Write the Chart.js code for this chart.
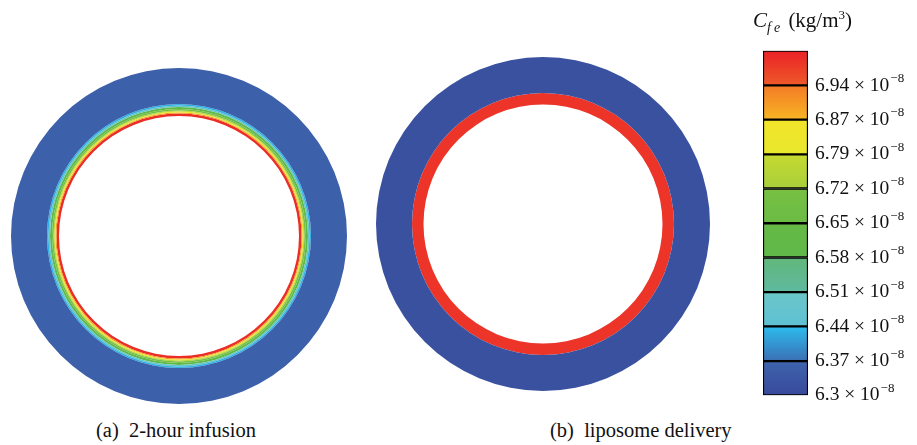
<!DOCTYPE html>
<html>
<head>
<meta charset="UTF-8">
<title>Cfe rings</title>
<script src="https://cdn.jsdelivr.net/npm/chart.js@4.4.1/dist/chart.umd.min.js"></script>
<style>
body { margin:0; background:#fff; }
#wrap { position:relative; width:917px; height:445px; overflow:hidden; font-family:"Liberation Serif","DejaVu Serif",serif; color:#111; }
canvas { position:absolute; }
.cap { position:absolute; font-size:20.5px; white-space:nowrap; }
#cbtitle { position:absolute; left:753px; top:7px; font-size:21px; white-space:nowrap; }
#cbtitle sub { font-size:14px; font-style:italic; letter-spacing:3px; }
#cbtitle sup { font-size:13px; }
</style>
</head>
<body>
<div id="wrap">
    <canvas id="ringA" width="336" height="336" style="left:11px;top:68px;"></canvas>
    <canvas id="ringB" width="334" height="334" style="left:376px;top:57px;"></canvas>
    <canvas id="cbar" width="177" height="382" style="left:740px;top:32px;"></canvas>
    <div id="cbtitle"><i>C</i><sub>fe</sub> (kg/m<sup>3</sup>)</div>
    <div class="cap" style="left:96px;top:419px;">(a)&nbsp; 2-hour infusion</div>
    <div class="cap" style="left:550px;top:419px;">(b)&nbsp; liposome delivery</div>
</div>
<script>
// colour levels of the contour legend (kg/m^3, x 1e-8)
var levels = [6.300, 6.370, 6.441, 6.511, 6.582, 6.652, 6.723, 6.793, 6.864, 6.934, 7.005];
var levelLabels = ['6.3', '6.37', '6.44', '6.51', '6.58', '6.65', '6.72', '6.79', '6.87', '6.94'];
var levelExp = '\u22128';
// colour at the bottom / top of each band
var bandBottom = ['#39499b', '#3b6fb4', '#5ec0d4', '#5ebaa0', '#5fb848', '#6bbc45', '#a8cf3a', '#e8e82c', '#f8b524', '#ef5a29'];
var bandTop    = ['#3e64ad', '#2cbdee', '#6ac7c8', '#62b77a', '#66ba46', '#78c043', '#c6da30', '#f2e42a', '#f47b26', '#ea2127'];

// radial profile (a) 2-hour infusion: ring edges in px from centre, outer -> inner
var ringA_edges = [168, 132, 130.5, 129, 127, 125.5, 124.5, 123.5, 122.5, 120];
var ringA_conc  = [6.36, 6.43, 6.50, 6.60, 6.70, 6.76, 6.82, 6.90, 6.99];
// radial profile (b) liposome delivery
var ringB_edges = [167, 131, 119.5];
var ringB_conc  = [6.32, 6.98];

var serif = '"Liberation Serif", "DejaVu Serif", serif';

function hex2rgb(h) {
    return [parseInt(h.substr(1,2),16), parseInt(h.substr(3,2),16), parseInt(h.substr(5,2),16)];
}
function concColor(v) {
    var i = 0;
    while (i < levels.length - 2 && v >= levels[i+1]) i++;
    var f = (v - levels[i]) / (levels[i+1] - levels[i]);
    f = Math.max(0, Math.min(1, f));
    var a = hex2rgb(bandBottom[i]), b = hex2rgb(bandTop[i]);
    var c = [0,1,2].map(function(k){ return Math.round(a[k] + (b[k]-a[k])*f); });
    return 'rgb(' + c.join(',') + ')';
}

function ringChart(id, edges, conc) {
    var sets = [];
    for (var i = 0; i < conc.length; i++) {
        sets.push({
            data: [1],
            weight: edges[i] - edges[i+1],
            backgroundColor: concColor(conc[i]),
            borderWidth: 0
        });
    }
    return new Chart(document.getElementById(id), {
        type: 'doughnut',
        data: { labels: ['c'], datasets: sets },
        options: {
            responsive: false,
            animation: false,
            events: [],
            cutout: edges[edges.length-1],
            layout: { padding: 0 },
            plugins: { legend: { display: false }, tooltip: { enabled: false } }
        }
    });
}

ringChart('ringA', ringA_edges, ringA_conc);
ringChart('ringB', ringB_edges, ringB_conc);

// colour bar
var barSets = [];
for (var i = 0; i < levels.length - 1; i++) {
    (function(i){
        barSets.push({
            data: [[levels[i], levels[i+1]]],
            backgroundColor: function(ctx) {
                var chart = ctx.chart;
                if (!chart.chartArea) return bandTop[i];
                var y = chart.scales.y;
                var g = chart.ctx.createLinearGradient(0, y.getPixelForValue(levels[i+1]), 0, y.getPixelForValue(levels[i]));
                g.addColorStop(0, bandTop[i]);
                g.addColorStop(1, bandBottom[i]);
                return g;
            },
            borderColor: '#000',
            borderWidth: 1.5,
            borderSkipped: false,
            grouped: false,
            barPercentage: 1,
            categoryPercentage: 1
        });
    })(i);
}

// draws the "-8" exponent after each tick label
var expPlugin = {
    id: 'exp',
    afterDraw: function(chart) {
        var s = chart.scales.y, c = chart.ctx;
        c.save();
        c.fillStyle = '#111';
        c.textBaseline = 'middle';
        c.textAlign = 'left';
        s.ticks.forEach(function(t, idx) {
            var txt = levelLabels[idx] + ' \u00d7 10';
            c.font = '19.5px ' + serif;
            var w = c.measureText(txt).width;
            var y = s.getPixelForValue(t.value);
            c.font = '13px ' + serif;
            c.fillText(levelExp, chart.chartArea.right + 7 + w + 1, y - 7);
        });
        c.restore();
    }
};

new Chart(document.getElementById('cbar'), {
    type: 'bar',
    data: { labels: ['Cfe'], datasets: barSets },
    options: {
        responsive: false,
        animation: false,
        events: [],
        layout: { padding: { left: 23, top: 1, bottom: 15, right: 0 } },
        plugins: { legend: { display: false }, tooltip: { enabled: false } },
        scales: {
            x: { display: false },
            y: {
                position: 'right',
                min: levels[0],
                max: levels[levels.length-1],
                grid: { display: false, drawTicks: false },
                border: { display: false },
                afterFit: function(s) { s.width = 109; },
                afterBuildTicks: function(s) {
                    s.ticks = levels.slice(0, levelLabels.length).map(function(v){ return { value: v }; });
                },
                ticks: {
                    padding: 7,
                    color: '#111',
                    font: { family: serif, size: 19.5 },
                    callback: function(v, idx) {
                        return levelLabels[idx] + ' \u00d7 10';
                    }
                }
            }
        }
    },
    plugins: [expPlugin]
});
</script>
</body>
</html>
